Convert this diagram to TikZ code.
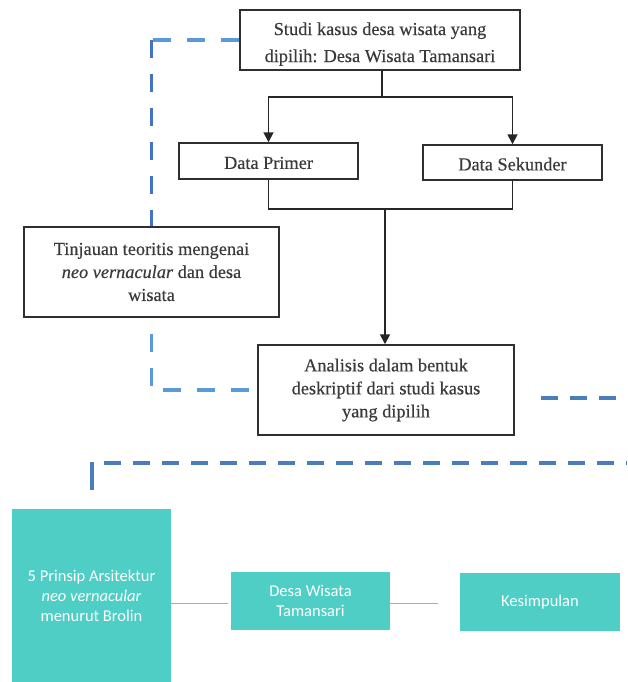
\documentclass[tikz,border=0pt]{standalone}
\usepackage{fontspec}
\setmainfont{Liberation Serif}[FakeBold=0.35]
\newfontfamily\carl{Carlito}
\usetikzlibrary{arrows.meta,calc}
\definecolor{boxline}{HTML}{2F2F2F}
\definecolor{boxtext}{HTML}{3A3A3A}
\definecolor{lblue}{HTML}{5B9BD5}
\definecolor{dblue}{HTML}{4472C4}
\definecolor{mblue}{HTML}{4A7EBB}
\definecolor{teal}{HTML}{4FCEC5}
\definecolor{lgray}{HTML}{ABABAB}
\tikzset{
  flowbox/.style={draw=boxline, line width=1.5pt, fill=white, text=boxtext, align=center,
    font=\fontsize{18.3}{23}\selectfont, inner sep=0pt},
  tealbox/.style={fill=teal, text=white, align=center, inner sep=0pt,
    font=\carl\fontsize{16.5}{20}\selectfont},
  conn/.style={draw=black!85, line width=1.8pt},
  arr/.style={conn, -{Triangle[length=10pt,width=10pt]}},
  bdash/.style={line width=3.5pt, dash pattern=on 18pt off 16pt},
  cdash/.style={line width=3.5pt, color=mblue, dash pattern=on 17pt off 12pt},
  gline/.style={draw=lgray, line width=1pt}
}
\begin{document}
\begin{tikzpicture}[x=1pt,y=-1pt]
\useasboundingbox (0,0) rectangle (627,682);
% top part
\node[flowbox, minimum width=280pt, minimum height=60pt, font=\fontsize{18.3}{27}\selectfont] (top) at (380,40)
  {\rule{0pt}{21pt}Studi kasus desa wisata yang\\dipilih: Desa Wisata Tamansari};
\node[flowbox, minimum width=179pt, minimum height=36pt] (dp) at (268.5,161) {\rule{0pt}{16pt}Data Primer};
\node[flowbox, minimum width=179pt, minimum height=35pt] (ds) at (512.5,162.5) {\rule{0pt}{16pt}Data Sekunder};
\node[flowbox, minimum width=255pt, minimum height=90pt] (tj) at (151.5,272)
  {Tinjauan teoritis mengenai\\\textit{neo vernacular} dan desa\\wisata};
\node[flowbox, minimum width=256pt, minimum height=90pt] (an) at (386,390)
  {Analisis dalam bentuk\\deskriptif dari studi kasus\\yang dipilih};
% connectors
\coordinate (j1) at (382,97);
\coordinate (j2) at (385,209);
\draw[conn] (top.south -| j1) -- (j1);
\draw[arr] (j1) -| (dp.north);
\draw[arr] (j1) -| (ds.north);
\draw[conn] (dp.south) |- (j2) -| (ds.south);
\draw[arr] (j2) -- (j2 |- an.north);
% blue dashed
\coordinate (c1) at (tj.north |- top.west);
\coordinate (c2) at (tj.south |- an.west);
\draw[bdash, lblue] (top.west) -- (c1);
\draw[bdash, dblue] (c1) -- (tj.north);
\draw[bdash, lblue, dash phase=18pt] (tj.south) -- (c2) -- (an.west);
\coordinate (r1) at (541,398);
\coordinate (r2) at (627,398);
\draw[cdash] (r1) -- (r2);
\coordinate (l0) at (92,490);
\coordinate (l1) at (92,462);
\coordinate (l2) at (104,463);
\coordinate (l3) at (627,463);
\draw[line width=3.5pt, mblue] (l0) -- (l1);
\draw[cdash] (l2) -- (l3);
% bottom teal
\node[tealbox, minimum width=159pt, minimum height=173pt] (b1) at (91.5,595.5)
  {5 Prinsip Arsitektur\\\textit{neo vernacular}\\menurut Brolin};
\node[tealbox, minimum width=159pt, minimum height=58pt] (b2) at (310.5,601)
  {Desa Wisata\\Tamansari};
\node[tealbox, minimum width=160pt, minimum height=58pt] (b3) at (540,602) {Kesimpulan};
\coordinate (g1) at (228,603);
\coordinate (g2) at (438,603);
\draw[gline] (b1.east |- g1) -- (g1);
\draw[gline] (b2.east |- g2) -- (g2);
\end{tikzpicture}
\end{document}
